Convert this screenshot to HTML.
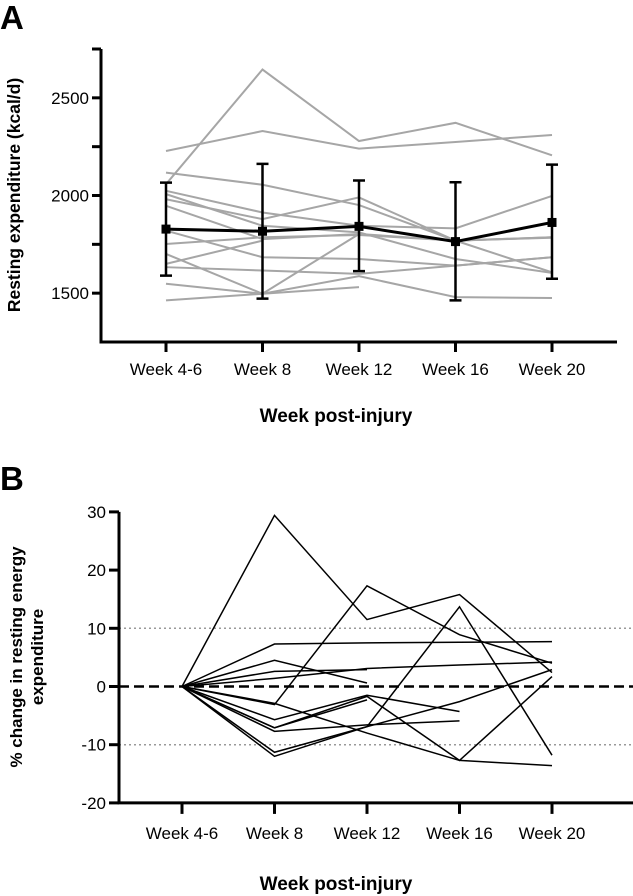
<!DOCTYPE html>
<html><head><meta charset="utf-8"><style>
html,body{margin:0;padding:0;background:#fff;}
svg{display:block;font-family:"Liberation Sans",Arial,sans-serif;}
</style></head><body>
<svg id="chart" width="633" height="896" viewBox="0 0 633 896" xmlns="http://www.w3.org/2000/svg">
<text x="0" y="29" font-size="33" font-weight="bold">A</text>
<text x="0" y="490" font-size="33" font-weight="bold">B</text>
<text transform="translate(20,195) rotate(-90)" text-anchor="middle" font-size="17.5" font-weight="bold">Resting expenditure (kcal/d)</text>
<text x="336" y="422" text-anchor="middle" font-size="19" font-weight="bold">Week post-injury</text>
<text transform="translate(22,657) rotate(-90)" text-anchor="middle" font-size="17" font-weight="bold"><tspan x="0" dy="0">% change in resting energy</tspan><tspan x="0" dy="21">expenditure</tspan></text>
<text x="336" y="890" text-anchor="middle" font-size="19" font-weight="bold">Week post-injury</text>
<g id="ga"></g><g id="gb"></g>
</svg>
<script>
const categories = ["Week 4-6","Week 8","Week 12","Week 16","Week 20"];
const ticksA = [1500,2000,2500];
const minorTicksA = [1750,2250];
const individualsA = [
 [2058,2645,2279,2372,2206],
 [2228,2330,2240,2274,2310],
 [2117,2055,1951,1769,1607],
 [2024,1913,1845,1832,1998],
 [2007,1845,1811,1675,1604],
 [1981,1879,1990,1769,1786],
 [1947,1777,1803,1769,1786],
 [1820,1684,1675,1641,1684],
 [1752,1786,1798,1769,1784],
 [1701,1497,1803,null,null],
 [1633,1616,1599,1641,1684],
 [1548,1497,1587,1480,1475],
 [1463,1497,1531,null,null],
 [1650,1769,null,null,null]
];
const meanA = [1828,1817,1842,1764,1862];
const errHighA = [2066,2162,2077,2068,2158];
const errLowA = [1590,1472,1613,1463,1574];

const ticksB = [-20,-10,0,10,20,30];
const individualsB = [
 [0,29.4,11.5,15.8,2.4],
 [0,-3.1,17.3,8.9,4.0],
 [0,7.3,7.5,7.6,7.7],
 [0,4.5,0.6,null,null],
 [0,2.6,2.9,null,null],
 [0,1.4,3.1,3.7,4.2],
 [0,-5.7,-1.5,-4.3,null],
 [0,-7.1,-1.7,-12.7,1.7],
 [0,-7.7,-6.6,-5.9,null],
 [0,-12.0,-6.9,13.7,-11.8],
 [0,-11.3,-6.9,-2.6,2.9],
 [0,-2.9,-8.0,-12.7,-13.6],
 [0,-7.1,-2.3,null,null]
];
const refLinesB = [10,-10];

const NS="http://www.w3.org/2000/svg";
function mk(parent,tag,attrs){const e=document.createElementNS(NS,tag);for(const k in attrs)e.setAttribute(k,attrs[k]);parent.appendChild(e);return e;}
const ga=document.getElementById('ga'), gb=document.getElementById('gb');

const xA = i => 166 + i*96.5;
const yA = v => 342 - (v-1250)*(293/1500);
function poly(g,arr,xf,yf,stroke,w,name){
  let segs=[],cur=[];
  arr.forEach((v,i)=>{ if(v===null){if(cur.length)segs.push(cur);cur=[];} else cur.push(xf(i)+','+yf(v)); });
  if(cur.length)segs.push(cur);
  segs.forEach(s=>{const p=mk(g,'polyline',{points:s.join(' '),fill:'none',stroke:stroke,'stroke-width':w,'stroke-linejoin':'miter'});
  
  });
}
individualsA.forEach(a=>poly(ga,a,xA,yA,'#a6a6a6',2,'individual-line-a'));
let ax=mk(ga,'path',{d:`M101,${yA(2750)} V${yA(1250)} H617`,fill:'none',stroke:'#000','stroke-width':3});


ticksA.forEach(t=>{
  mk(ga,'line',{x1:92,x2:101,y1:yA(t),y2:yA(t),stroke:'#000','stroke-width':3});
  const tx=mk(ga,'text',{x:89,y:yA(t)+6,'text-anchor':'end','font-size':17});tx.textContent=t;
  
  
});
minorTicksA.concat([2750]).forEach(t=>mk(ga,'line',{x1:92,x2:101,y1:yA(t),y2:yA(t),stroke:'#000','stroke-width':3}));
categories.forEach((c,i)=>{
  mk(ga,'line',{x1:xA(i),x2:xA(i),y1:342,y2:352,stroke:'#000','stroke-width':3});
  const tx=mk(ga,'text',{x:xA(i),y:375,'text-anchor':'middle','font-size':17});tx.textContent=c;
  
  
});
poly(ga,meanA,xA,yA,'#000',3,'mean-line');
meanA.forEach((m,i)=>{
  const x=xA(i);
  const eb=mk(ga,'path',{d:`M${x},${yA(errHighA[i])} V${yA(errLowA[i])} M${x-6},${yA(errHighA[i])} H${x+6} M${x-6},${yA(errLowA[i])} H${x+6}`,stroke:'#000','stroke-width':2.5,fill:'none'});
  
  
  const r=mk(ga,'rect',{x:x-4.5,y:yA(m)-4.5,width:9,height:9,fill:'#000'});
  
  
});

const xB = i => 182 + i*92.5;
const yB = v => 686.5 - v*5.82;
refLinesB.forEach(v=>{const l=mk(gb,'line',{x1:119,x2:633,y1:yB(v),y2:yB(v),stroke:'#999','stroke-width':1.5,'stroke-dasharray':'2,3'});
  
  });
individualsB.forEach(a=>poly(gb,a,xB,yB,'#000',1.5,'individual-line-b'));
let zl=mk(gb,'line',{x1:119,x2:633,y1:yB(0),y2:yB(0),stroke:'#000','stroke-width':2.5,'stroke-dasharray':'10,5'});


let bx=mk(gb,'path',{d:`M119,${yB(30)} V${yB(-20)} H633`,fill:'none',stroke:'#000','stroke-width':3});


ticksB.forEach(t=>{
  mk(gb,'line',{x1:109,x2:119,y1:yB(t),y2:yB(t),stroke:'#000','stroke-width':3});
  const tx=mk(gb,'text',{x:106,y:yB(t)+6,'text-anchor':'end','font-size':17});tx.textContent=t;
  
  
});
categories.forEach((c,i)=>{
  mk(gb,'line',{x1:xB(i),x2:xB(i),y1:yB(-20),y2:yB(-20)+11,stroke:'#000','stroke-width':3});
  const tx=mk(gb,'text',{x:xB(i),y:yB(-20)+36,'text-anchor':'middle','font-size':17});tx.textContent=c;
  
  
});
</script>
</body></html>
